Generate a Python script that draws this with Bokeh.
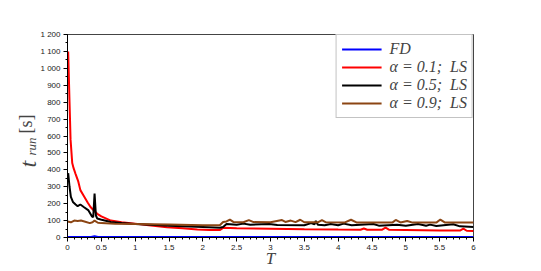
import math
from bokeh.plotting import figure
from bokeh.models import (Range1d, Legend, LegendItem, Label, CustomJSTickFormatter,
                          SingleIntervalTicker)
from bokeh.embed import file_html
from bokeh.resources import INLINE

# ---- data ----
T_fd = [0.0, 0.35, 0.40, 0.45, 6.0]
fd = [3, 3, 8, 3, 3]

T_a01 = [0.01, 0.03, 0.045, 0.07, 0.09, 0.12, 0.16, 0.19, 0.25, 0.3, 0.34, 0.4, 0.44, 0.5,
         0.64, 0.8, 1.0, 1.2, 1.47, 1.7, 1.92, 2.1, 2.25, 2.3, 2.5, 3.0, 3.5, 4.0, 4.33,
         4.38, 4.43, 4.65, 4.7, 4.75, 5.0, 5.5, 5.8, 5.85, 5.9, 6.0]
a01 = [1100, 800, 580, 440, 410, 375, 330, 280, 240, 205, 180, 155, 140, 125,
       100, 90, 82, 72, 61, 54, 47, 45, 44, 57, 55, 52, 49, 47, 46,
       53, 46, 46, 58, 46, 45, 42, 41, 52, 40, 38]

T_a05 = [0.01, 0.03, 0.05, 0.08, 0.12, 0.15, 0.19, 0.24, 0.31, 0.36, 0.38, 0.40, 0.42, 0.44,
         0.49, 0.64, 0.8, 1.0, 1.5, 2.0, 2.25, 2.3, 2.35, 2.5, 2.6, 2.7, 2.98, 3.1, 3.5, 3.6,
         3.65, 3.67, 3.7, 3.8, 3.89, 4.0, 4.08, 4.2, 4.52, 4.6, 4.87, 5.0, 5.18, 5.3, 5.36,
         5.45, 5.7, 5.8, 6.0]
a05 = [380, 300, 240, 210, 195, 185, 195, 180, 160, 125, 120, 260, 130, 112,
       106, 92, 86, 80, 70, 62, 58, 62, 80, 75, 82, 76, 80, 74, 72, 85,
       78, 98, 75, 72, 80, 72, 82, 72, 80, 70, 76, 70, 80, 70, 76,
       68, 78, 66, 62]

T_a09 = [0.0, 0.05, 0.1, 0.15, 0.2, 0.25, 0.33, 0.37, 0.4, 0.45, 0.5, 0.7, 1.0, 1.5, 2.0,
         2.25, 2.3, 2.35, 2.4, 2.45, 2.6, 2.68, 2.75, 3.0, 3.17, 3.22, 3.3, 3.37, 3.44, 3.5,
         3.7, 3.76, 3.82, 4.1, 4.19, 4.27, 4.8, 4.85, 4.92, 5.02, 5.1, 5.45, 5.51, 5.58, 6.0]
a09 = [95, 90, 100, 98, 100, 95, 85, 90, 100, 87, 85, 82, 80, 77, 73,
       72, 92, 95, 106, 92, 90, 103, 91, 90, 103, 92, 100, 91, 105, 90,
       90, 103, 90, 89, 105, 89, 88, 104, 89, 98, 88, 88, 106, 88, 88]

labels = ["FD", "\u03b1 = 0.1;  LS", "\u03b1 = 0.5;  LS", "\u03b1 = 0.9;  LS"]

# ---- figure ----
p = figure(width=541, height=271, output_backend="svg", toolbar_location=None,
           x_range=Range1d(0, 6), y_range=Range1d(0, 1200),
           min_border_left=67, min_border_right=68, min_border_top=34, min_border_bottom=34)
p.grid.visible = False
p.outline_line_color = "#444444"
p.outline_line_width = 1

for ax in (p.xaxis[0], p.yaxis[0]):
    ax.major_tick_in = 0
    ax.major_tick_out = 4
    ax.minor_tick_in = 0
    ax.minor_tick_out = 2
    ax.axis_line_color = "black"
    ax.major_label_text_font = "Liberation Sans"
    ax.major_label_text_font_size = "8px"
    ax.major_label_text_color = "#222222"
    ax.major_label_standoff = 3

p.xaxis.ticker = SingleIntervalTicker(interval=0.5, num_minor_ticks=5)
p.yaxis.ticker = SingleIntervalTicker(interval=100, num_minor_ticks=2)
p.xaxis.formatter = CustomJSTickFormatter(code="return Number(tick.toFixed(2)).toString();")
p.yaxis.formatter = CustomJSTickFormatter(code="""
const v = Math.round(tick);
if (v >= 1000) { return Math.floor(v/1000) + ' ' + String(v % 1000).padStart(3, '0'); }
return String(v);
""")

r1 = p.line(T_fd, fd, line_color="#0000ff", line_width=2)
r2 = p.line(T_a01, a01, line_color="#ff0000", line_width=2)
r3 = p.line(T_a05, a05, line_color="#000000", line_width=2)
r4 = p.line(T_a09, a09, line_color="#8B4513", line_width=2)

legend = Legend(items=[LegendItem(label=labels[i], renderers=[r]) for i, r in enumerate([r1, r2, r3, r4])],
                location="top_right", margin=0, padding=5, spacing=0,
                label_height=16, glyph_height=16, glyph_width=40, label_standoff=8,
                label_text_font="Liberation Serif", label_text_font_style="italic",
                label_text_font_size="16px", border_line_color="#888888",
                border_line_width=1, background_fill_alpha=1)
p.add_layout(legend, "center")

# axis labels as text, in canvas units (page pixels from the top-left);
# hosted in the (otherwise empty) top and right border panels so they are not clipped
serif = "Liberation Serif"
p.add_layout(Label(x=270, y=258, x_units="canvas", y_units="canvas", text="T",
                   text_font=serif, text_font_style="italic", text_font_size="17px",
                   text_align="center", text_baseline="alphabetic"), "above")
p.add_layout(Label(x=27, y=167, x_units="canvas", y_units="canvas", text="t", angle=math.pi/2,
                   text_font=serif, text_font_style="italic", text_font_size="24px",
                   text_align="left", text_baseline="alphabetic"), "right")
p.add_layout(Label(x=31, y=155, x_units="canvas", y_units="canvas", text="run", angle=math.pi/2,
                   text_font=serif, text_font_style="italic", text_font_size="13px",
                   text_align="left", text_baseline="alphabetic"), "right")
p.add_layout(Label(x=25, y=133, x_units="canvas", y_units="canvas", text="[s]", angle=math.pi/2,
                   text_font=serif, text_font_size="18px",
                   text_align="left", text_baseline="alphabetic"), "right")

open("out.html", "w").write(file_html(p, INLINE))
